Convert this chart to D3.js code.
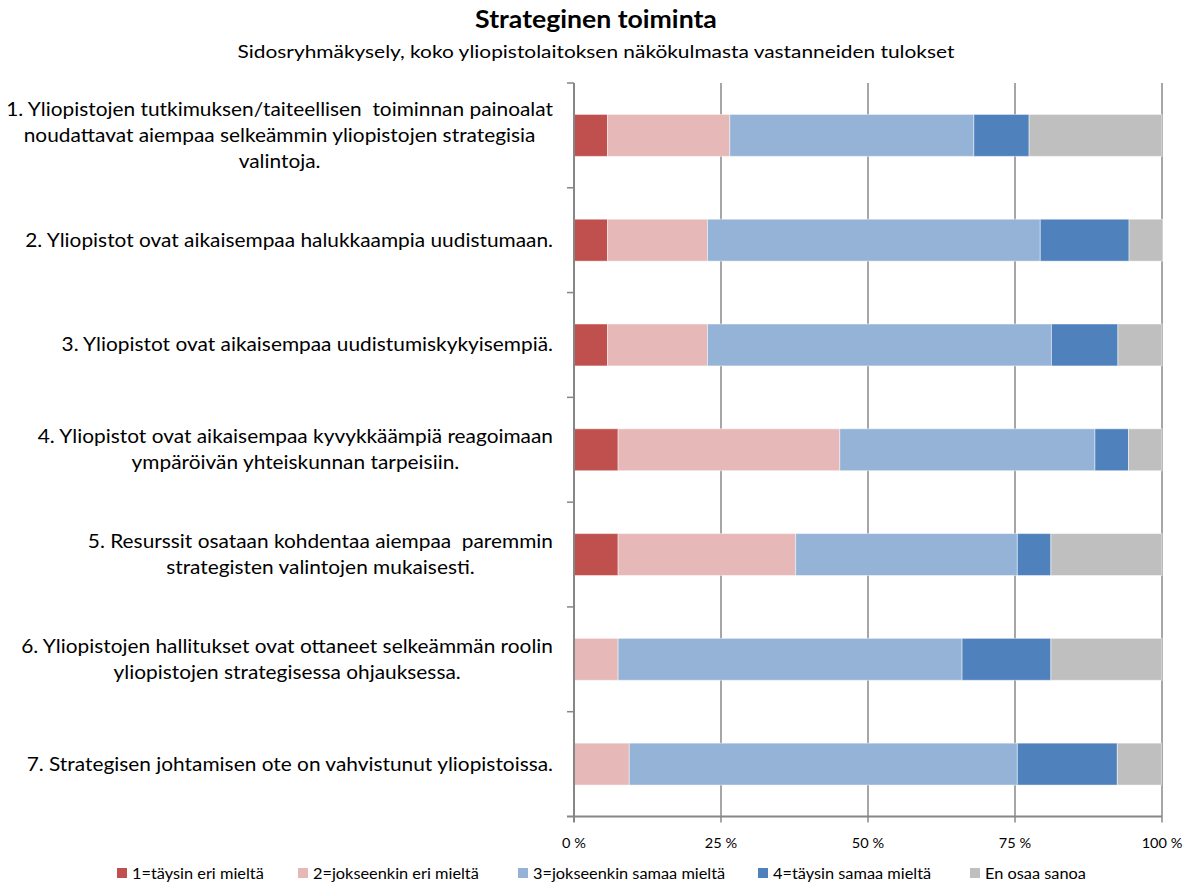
<!DOCTYPE html>
<html>
<head>
<meta charset="utf-8">
<script src="https://cdn.jsdelivr.net/npm/d3@7"></script>
<style>
  html, body { margin: 0; padding: 0; background: #fff; }
  svg text { font-family: "Lato", "Liberation Sans Narrow", "Noto Sans", sans-serif; fill: #000; }
</style>
</head>
<body>
<svg id="chart" width="1192" height="885"></svg>
<script>
// Survey statements (multi-line labels split on "\n")
const categories = [
  "1. Yliopistojen tutkimuksen/taiteellisen  toiminnan painoalat\nnoudattavat aiempaa selkeämmin yliopistojen strategisia\nvalintoja.",
  "2. Yliopistot ovat aikaisempaa halukkaampia uudistumaan.",
  "3. Yliopistot ovat aikaisempaa uudistumiskykyisempiä.",
  "4. Yliopistot ovat aikaisempaa kyvykkäämpiä reagoimaan\nympäröivän yhteiskunnan tarpeisiin.",
  "5. Resurssit osataan kohdentaa aiempaa  paremmin\nstrategisten valintojen mukaisesti.",
  "6. Yliopistojen hallitukset ovat ottaneet selkeämmän roolin\nyliopistojen strategisessa ohjauksessa.",
  "7. Strategisen johtamisen ote on vahvistunut yliopistoissa."
];

const seriesNames = [
  "1=täysin eri mieltä",
  "2=jokseenkin eri mieltä",
  "3=jokseenkin samaa mieltä",
  "4=täysin samaa mieltä",
  "En osaa sanoa"
];

// Share of respondents (%) per answer, one entry per statement
const s1 = [5.7, 5.7, 5.7, 7.5, 7.5, 0.0, 0.0];
const s2 = [20.8, 17.0, 17.0, 37.7, 30.2, 7.5, 9.4];
const s3 = [41.5, 56.6, 58.5, 43.4, 37.7, 58.5, 66.0];
const s4 = [9.4, 15.1, 11.3, 5.7, 5.7, 15.1, 17.0];
const s5 = [22.6, 5.7, 7.5, 5.7, 18.9, 18.9, 7.5];

const xTicks = [0, 25, 50, 75, 100];
const xTickLabels = ["0 %", "25 %", "50 %", "75 %", "100 %"];

const colors = ["#C0504D", "#E6B9B8", "#95B3D7", "#4F81BD", "#BFBFBF"];

const svg = d3.select("#chart");
const plot = { left: 574, right: 1162, top: 83, bottom: 816.5 };

const rows = categories.map((c, i) => ({
  label: c,
  values: [s1[i], s2[i], s3[i], s4[i], s5[i]]
}));

const x = d3.scaleLinear().domain([0, 100]).range([plot.left, plot.right]);
const y = d3.scaleBand().domain(d3.range(categories.length))
  .range([plot.top, plot.bottom]).paddingInner(0.6).paddingOuter(0.3);
const yOuter = d3.scaleBand().domain(d3.range(categories.length))
  .range([plot.top, plot.bottom]);

// Text helper: places text at (tx, ty) with a horizontal stretch factor
function stretchedText(parent, tx, ty, str, size, sx, anchor, weight) {
  return parent.append("text")
    .attr("transform", `translate(${tx},${ty}) scale(${sx},1)`)
    .attr("text-anchor", anchor || "start")
    .attr("xml:space", "preserve")
    .style("font-size", size + "px")
    .style("font-weight", weight || "normal")
    .text(str);
}

// Title & subtitle
stretchedText(svg, 596, 28, "Strateginen toiminta", 24, 1.11, "middle", "bold");
stretchedText(svg, 596, 58, "Sidosryhmäkysely, koko yliopistolaitoksen näkökulmasta vastanneiden tulokset", 18, 1.16, "middle");

// Vertical gridlines
svg.append("g").selectAll("line").data(xTicks.slice(1)).join("line")
  .attr("x1", d => x(d)).attr("x2", d => x(d))
  .attr("y1", plot.top).attr("y2", plot.bottom + 6)
  .attr("stroke", "#A6A6A6").attr("stroke-width", 2);

// Stacked bars
const stack = d3.stack().keys(d3.range(5)).value((d, k) => d.values[k]);
const layers = stack(rows);
svg.append("g").selectAll("g").data(layers).join("g")
  .attr("fill", (d, i) => colors[i])
  .selectAll("rect").data(d => d.map((seg, i) => ({ seg, i }))).join("rect")
  .attr("x", d => x(d.seg[0]))
  .attr("width", d => Math.max(0, x(d.seg[1]) - x(d.seg[0])))
  .attr("y", d => y(d.i))
  .attr("height", y.bandwidth())
  .attr("stroke", "rgba(255,255,255,0.45)").attr("stroke-width", 1);

// Category axis (left) with separator ticks, plus bottom axis line
const axisG = svg.append("g");
axisG.append("line").attr("x1", plot.left).attr("x2", plot.left)
  .attr("y1", plot.top).attr("y2", plot.bottom + 6)
  .attr("stroke", "#868686").attr("stroke-width", 2);
axisG.selectAll("line.sep").data(d3.range(categories.length)).join("line")
  .attr("class", "sep")
  .attr("x1", plot.left - 7).attr("x2", plot.left)
  .attr("y1", i => yOuter(i)).attr("y2", i => yOuter(i))
  .attr("stroke", "#868686").attr("stroke-width", 1.5);
axisG.append("line").attr("x1", plot.left - 7).attr("x2", plot.right)
  .attr("y1", plot.bottom).attr("y2", plot.bottom)
  .attr("stroke", "#868686").attr("stroke-width", 2);

// X axis labels
const xl = svg.append("g");
xTicks.forEach((d, i) => stretchedText(xl, x(d), 848, xTickLabels[i], 13, 1.12, "middle"));

// Category labels: block right-aligned, lines centred within block
const labelRight = 553;
const lineH = 26;
const labelSize = 19.5, labelSx = 1.07;
const labG = svg.append("g");
rows.forEach((r, i) => {
  const lines = r.label.split("\n");
  const cy = yOuter(i) + yOuter.bandwidth() / 2;
  const g = labG.append("g");
  const texts = lines.map(ln => stretchedText(g, 0, 0, ln, labelSize, labelSx, "middle"));
  const maxW = d3.max(texts, t => t.node().getComputedTextLength()) * labelSx;
  texts.forEach((t, j) => {
    const ty = cy + (j - (lines.length - 1) / 2) * lineH + 6.5;
    t.attr("transform", `translate(${labelRight - maxW / 2},${ty}) scale(${labelSx},1)`);
  });
});

// Legend
const legendX = [117, 298, 518, 758, 970];
const lg = svg.append("g");
seriesNames.forEach((n, i) => {
  lg.append("rect").attr("x", legendX[i]).attr("y", 868).attr("width", 10).attr("height", 10)
    .attr("fill", colors[i]);
  stretchedText(lg, legendX[i] + 15, 879, n, 15, 1.09, "start");
});
</script>
</body>
</html>
